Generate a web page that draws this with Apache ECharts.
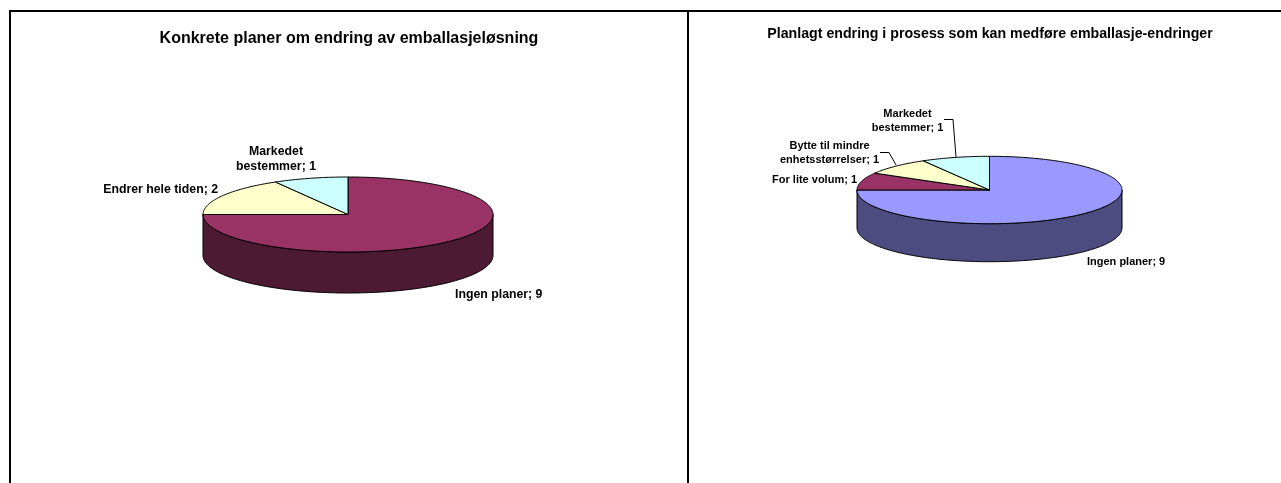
<!DOCTYPE html>
<html>
<head>
<meta charset="utf-8">
<style>html,body{margin:0;padding:0;background:#fff}#chart{width:1281px;height:483px}</style>
<script src="https://cdn.jsdelivr.net/npm/echarts@6/dist/echarts.min.js"></script>
</head>
<body>
<div id="chart"></div>
<script>
// Survey answers, one list pair per pie
const planCategories = ['Ingen planer', 'Endrer hele tiden', 'Markedet\nbestemmer'];
const planValues = [9, 2, 1];
const planColors = ['#993366', '#FFFFCC', '#CCFFFF'];
const planSideColors = ['#4C1A33', '#80805F', '#668080'];

const processCategories = ['Ingen planer', 'For lite volum', 'Bytte til mindre\nenhetsstørrelser', 'Markedet\nbestemmer'];
const processValues = [9, 1, 1, 1];
const processColors = ['#9999FF', '#993366', '#FFFFCC', '#CCFFFF'];
const processSideColors = ['#4C4C80', '#4C1A33', '#80805F', '#668080'];

const titles = ['Konkrete planer om endring av emballasjeløsning', 'Planlagt endring i prosess som kan medføre emballasje-endringer'];

// Ellipse geometry of each tilted disc
const planDisc = { cx: 348, cy: 214.5, rx: 145, ry: 37.5, depth: 41, font: 12.3, lh: 15 };
const processDisc = { cx: 989.5, cy: 190, rx: 132.5, ry: 33.7, depth: 38, font: 11, lh: 14 };

// Label anchors and leader lines, by slice index
const planLabels = [
  { x: 455, y: 295, align: 'left' },
  { x: 218, y: 190, align: 'right' },
  { x: 276, y: 159.5, align: 'center' }
];
const processLabels = [
  { x: 1087, y: 262, align: 'left' },
  { x: 857, y: 180, align: 'right' },
  { x: 829.5, y: 153, align: 'center' },
  { x: 907.5, y: 120.5, align: 'center' }
];
const processLeaders = { 2: [[880, 152.5], [889, 152.5], [896, 165]], 3: [[944, 119.5], [953, 119.5], [956, 157]] };

const STEP = Math.PI / 180;

// Point on the disc rim; angle in radians, clockwise from twelve o'clock
function rim(d, a, drop) {
  return [d.cx + d.rx * Math.sin(a), d.cy - d.ry * Math.cos(a) + (drop || 0)];
}

function arc(d, a0, a1, drop) {
  const pts = [];
  const n = Math.max(2, Math.ceil(Math.abs(a1 - a0) / STEP));
  for (let i = 0; i <= n; i++) pts.push(rim(d, a0 + (a1 - a0) * i / n, drop));
  return pts;
}

function pieSeries(disc, names, values, colors, sideColors, labels, leaders) {
  const total = values.reduce((s, v) => s + v, 0);
  const starts = [];
  values.reduce((acc, v, i) => { starts[i] = acc; return acc + v; }, 0);
  return {
    type: 'custom',
    coordinateSystem: 'none',
    silent: true,
    animation: false,
    clip: false,
    data: values.map((v, i) => ({ name: names[i], value: [v, starts[i]] })),
    renderItem(params, api) {
      const i = params.dataIndex;
      const a0 = api.value(1) / total * 2 * Math.PI;
      const a1 = (api.value(1) + api.value(0)) / total * 2 * Math.PI;
      const stroke = { stroke: '#000', lineWidth: 1 };
      const children = [];

      // Rim wall: only the part of the slice on the near half shows
      const lo = Math.max(a0, Math.PI / 2);
      const hi = Math.min(a1, 3 * Math.PI / 2);
      if (hi > lo) {
        const top = arc(disc, lo, hi, 0);
        const bottom = arc(disc, hi, lo, disc.depth);
        children.push({
          type: 'polygon',
          shape: { points: top.concat(bottom) },
          style: Object.assign({ fill: sideColors[i] }, stroke)
        });
      }

      // Slice face
      children.push({
        type: 'polygon',
        shape: { points: [[disc.cx, disc.cy]].concat(arc(disc, a0, a1, 0)) },
        style: Object.assign({ fill: colors[i], lineJoin: 'round' }, stroke)
      });

      if (leaders && leaders[i]) {
        children.push({
          type: 'polyline',
          shape: { points: leaders[i] },
          style: { fill: null, stroke: '#000', lineWidth: 1 }
        });
      }

      const l = labels[i];
      children.push({
        type: 'text',
        x: l.x,
        y: l.y,
        z2: 10,
        style: {
          text: names[i] + '; ' + api.value(0),
          font: 'bold ' + disc.font + 'px "Liberation Sans", Arial, sans-serif',
          fill: '#000',
          align: l.align,
          verticalAlign: 'middle',
          lineHeight: disc.lh
        }
      });
      return { type: 'group', children };
    }
  };
}

const chart = echarts.init(document.getElementById('chart'), null, { renderer: 'canvas' });
chart.setOption({
  backgroundColor: '#fff',
  animation: false,
  title: [
    { text: titles[0], left: 344, top: 26, textAlign: 'center',
      textStyle: { fontFamily: '"Liberation Sans", Arial, sans-serif', fontWeight: 'bold', fontSize: 16, color: '#000' } },
    { text: titles[1], left: 985, top: 22.5, textAlign: 'center',
      textStyle: { fontFamily: '"Liberation Sans", Arial, sans-serif', fontWeight: 'bold', fontSize: 14.2, color: '#000' } }
  ],
  graphic: [
    // Shared top rule, outer left edge and centre divider of the two panels
    { type: 'rect', shape: { x: 9, y: 10, width: 1272, height: 2 }, style: { fill: '#000' } },
    { type: 'rect', shape: { x: 9, y: 10, width: 2, height: 473 }, style: { fill: '#000' } },
    { type: 'rect', shape: { x: 687, y: 10, width: 2, height: 473 }, style: { fill: '#000' } }
  ],
  series: [
    pieSeries(planDisc, planCategories, planValues, planColors, planSideColors, planLabels),
    pieSeries(processDisc, processCategories, processValues, processColors, processSideColors, processLabels, processLeaders)
  ]
});
</script>
</body>
</html>
